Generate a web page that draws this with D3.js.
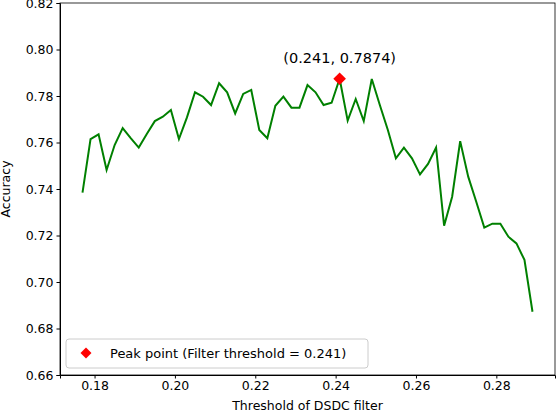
<!DOCTYPE html>
<html><head><meta charset="utf-8">
<script src="https://cdn.jsdelivr.net/npm/d3@7"></script>
<style>body{margin:0;background:#fff}text{font-family:"DejaVu Sans",sans-serif}</style>
</head><body><svg width="558" height="414"></svg>
<script>
const thresholds = [0.177,0.179,0.181,0.183,0.185,0.187,0.189,0.191,0.193,0.195,0.197,0.199,0.201,0.203,0.205,0.207,0.209,0.211,0.213,0.215,0.217,0.219,0.221,0.223,0.225,0.227,0.229,0.231,0.233,0.235,0.237,0.239,0.241,0.243,0.245,0.247,0.249,0.251,0.253,0.255,0.257,0.259,0.261,0.263,0.265,0.267,0.269,0.271,0.273,0.275,0.277,0.279,0.281,0.283,0.285,0.287,0.289];
const accuracy = [0.7384,0.7615,0.7635,0.7482,0.7589,0.7662,0.7619,0.7578,0.7637,0.7692,0.7711,0.7740,0.7615,0.7708,0.7816,0.7797,0.7761,0.7855,0.7816,0.7725,0.7809,0.7826,0.7654,0.7618,0.7758,0.7797,0.7750,0.7750,0.7847,0.7816,0.7761,0.7771,0.7874,0.7694,0.7787,0.7692,0.7873,0.7761,0.7654,0.7532,0.7578,0.7532,0.7463,0.7508,0.7578,0.7242,0.7367,0.7606,0.7453,0.7345,0.7234,0.7251,0.7251,0.7195,0.7166,0.7095,0.6872];
const peak = {x: 0.241, y: 0.7874};
const xTicks = [0.18,0.20,0.22,0.24,0.26,0.28];
const yTicks = [0.66,0.68,0.70,0.72,0.74,0.76,0.78,0.80,0.82];

const L=60,R=555,T=3,B=375;
const svg=d3.select('svg');
const x=d3.scaleLinear().domain([0.1714,0.2946]).range([L,R]);
const y=d3.scaleLinear().domain([0.66,0.82]).range([B,T]);

svg.append('g').attr('transform',`translate(0,${B})`)
  .call(d3.axisBottom(x).tickValues(xTicks).tickFormat(d3.format('.2f')).tickSizeOuter(0).tickSize(3.5))
  .call(g=>g.selectAll('text').attr('font-size',12.5).attr('fill','#000').attr('font-family','DejaVu Sans'));
svg.append('g').attr('transform',`translate(${L},0)`)
  .call(d3.axisLeft(y).tickValues(yTicks).tickFormat(d3.format('.2f')).tickSizeOuter(0).tickSize(3.5))
  .call(g=>g.selectAll('text').attr('font-size',12.5).attr('fill','#000').attr('font-family','DejaVu Sans'));
svg.append('rect').attr('x',L).attr('y',T).attr('width',R-L).attr('height',B-T)
  .attr('fill','none').attr('stroke','#000').attr('stroke-width',0.8);

svg.append('path').datum(thresholds.map((t,i)=>[t,accuracy[i]]))
  .attr('d',d3.line().x(d=>x(d[0])).y(d=>y(d[1])))
  .attr('fill','none').attr('stroke','green').attr('stroke-width',2);

svg.append('path').attr('d',d3.symbol(d3.symbolSquare,80)())
  .attr('transform',`translate(${x(peak.x)},${y(peak.y)}) rotate(45)`).attr('fill','red');
svg.append('text').attr('x',x(peak.x)).attr('y',y(peak.y)-16).attr('text-anchor','middle')
  .attr('font-size',14.5).text(`(${peak.x}, ${peak.y})`);

svg.append('text').attr('x',(L+R)/2).attr('y',410).attr('text-anchor','middle').attr('font-size',12.5).text('Threshold of DSDC filter');
svg.append('text').attr('transform',`translate(10,${(T+B)/2}) rotate(-90)`).attr('text-anchor','middle').attr('font-size',12.5).text('Accuracy');

const lg=svg.append('g');
lg.append('rect').attr('x',66).attr('y',339).attr('width',302).attr('height',29).attr('rx',3)
  .attr('fill','#fff').attr('fill-opacity',0.8).attr('stroke','#ccc');
lg.append('path').attr('d',d3.symbol(d3.symbolSquare,60)()).attr('transform','translate(86,353) rotate(45)').attr('fill','red');
lg.append('text').attr('x',110).attr('y',357.5).attr('font-size',13).text('Peak point (Filter threshold = 0.241)');
</script></body></html>
